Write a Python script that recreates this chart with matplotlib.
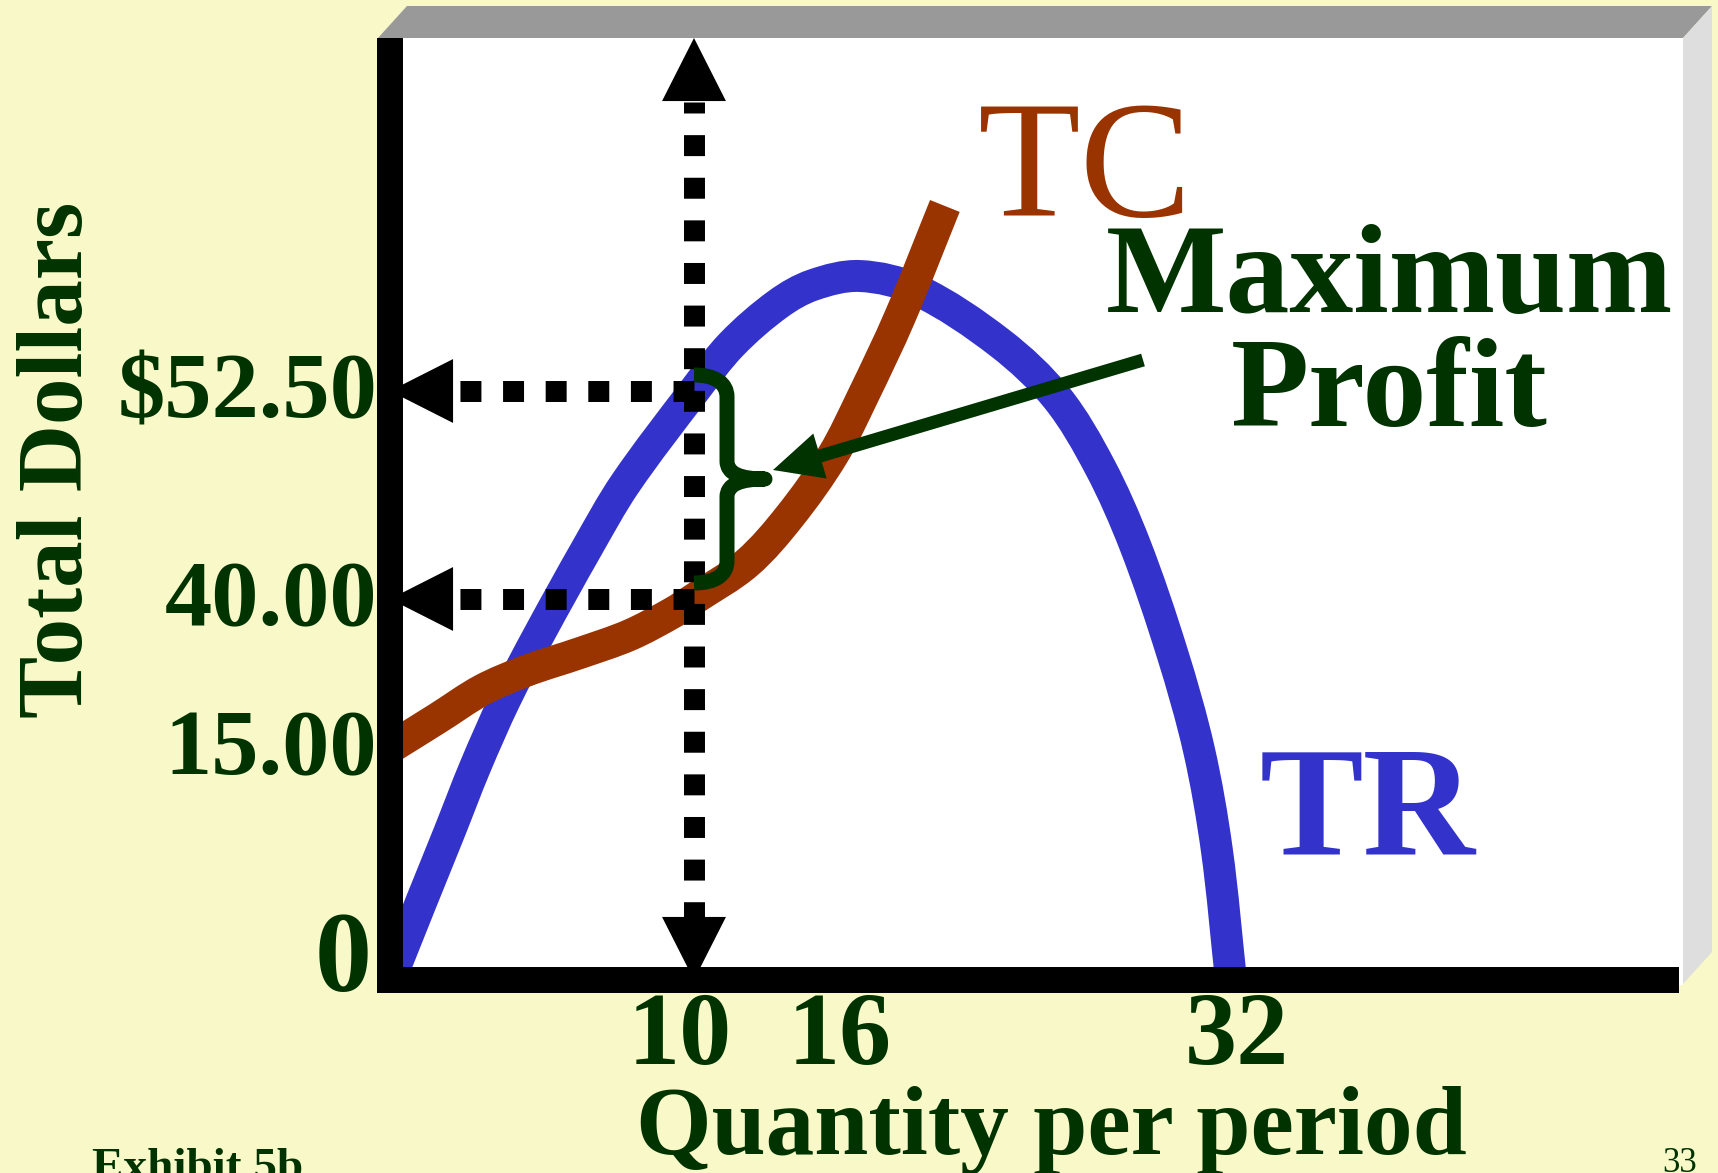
import numpy as np
import matplotlib
matplotlib.use("Agg")
import matplotlib.pyplot as plt
from matplotlib.patches import Polygon, PathPatch
from matplotlib.path import Path
from matplotlib.transforms import IdentityTransform, ScaledTranslation

plt.rcParams["font.family"] = "Liberation Serif"

W, H = 1718, 1173
BG = "#f8f8c8"
GREEN = "#003300"
BLUE = "#3333cc"
BROWN = "#993300"

# total revenue and total cost (quantity, dollars)
TR_Q = [0, 1.05, 1.94, 2.8, 3.78, 4.93, 6.48, 7.73, 10, 11.37, 13.04, 14.3, 16,
        18.46, 22.04, 24.5, 26.35, 27.86, 29.45, 30.62, 31.39, 32]
TR_D = [0, 5.17, 9.5, 13.77, 23.05, 34.3, 43.06, 46.91, 52.5, 55.32, 57.73, 58.87,
        59.41, 58.57, 55.38, 52.08, 47.93, 43.25, 31.11, 14.87, 8.4, 0]
TC_Q = [0, 1.58, 3.03, 4.47, 6.25, 7.89, 9.28, 10, 11.92, 13.47, 15.02, 16.13,
        17.72, 19.66]
TC_D = [15, 20.03, 24.73, 27.92, 30.94, 33.96, 37.65, 40, 42.16, 44.99, 48.65,
        52.2, 56.95, 63.62]

Q_TICKS = [10, 16, 32]
Q_LABELS = ["10", "16", "32"]
D_TICKS = [15, 40, 52.5]
D_LABELS = ["15.00", "40.00", r"\$52.50"]

Q_BEST = 10      # profit-maximising output
TR_BEST = 52.5   # revenue there
TC_BEST = 40     # cost there

# axes box in pixels (top-left origin)
AX_L, AX_R, AX_T, AX_B = 390, 1666, 38, 980
# the axes are not drawn to a uniform scale: pixel distance of each marked value
X_KNOT_Q = [0, 10, 16, 32]
X_KNOT_PX = [0, 304, 470, 841]
Y_KNOT_D = [0, 15, 40, 52.5]
Y_KNOT_PX = [0, 232, 381, 589]
X_LABEL_SHIFT = [-14, -20, 6]   # px nudges for the quantity labels


def lin_extrap(v, xp, fp):
    v = np.asarray(v, dtype=float)
    xp = np.asarray(xp, dtype=float)
    fp = np.asarray(fp, dtype=float)
    out = np.interp(v, xp, fp)
    lo = fp[0] + (v - xp[0]) * (fp[1] - fp[0]) / (xp[1] - xp[0])
    hi = fp[-1] + (v - xp[-1]) * (fp[-1] - fp[-2]) / (xp[-1] - xp[-2])
    return np.where(v < xp[0], lo, np.where(v > xp[-1], hi, out))


def x_fwd(v):
    return lin_extrap(v, X_KNOT_Q, X_KNOT_PX)


def x_inv(p):
    return lin_extrap(p, X_KNOT_PX, X_KNOT_Q)


def y_fwd(v):
    return lin_extrap(v, Y_KNOT_D, Y_KNOT_PX)


def y_inv(p):
    return lin_extrap(p, Y_KNOT_PX, Y_KNOT_D)


def fxy(x, y):
    return (x / W, 1 - y / H)


def smooth_curve(q, d):
    """Bezier path through the points, built in scaled space, returned in data units."""
    pts = np.column_stack([x_fwd(q), y_fwd(d)])
    n = len(pts)
    tang = []
    for i in range(n):
        a = pts[max(i - 1, 0)]
        b = pts[min(i + 1, n - 1)]
        t = b - a
        tang.append(t / np.hypot(*t))
    verts = [pts[0]]
    codes = [Path.MOVETO]
    for i in range(n - 1):
        seg = np.hypot(*(pts[i + 1] - pts[i])) / 3
        verts += [pts[i] + tang[i] * seg, pts[i + 1] - tang[i + 1] * seg, pts[i + 1]]
        codes += [Path.CURVE4] * 3
    verts = np.array(verts)
    data = np.column_stack([x_inv(verts[:, 0]), y_inv(verts[:, 1])])
    return Path(data, codes)


fig = plt.figure(figsize=(W / 100, H / 100), dpi=100, facecolor=BG)

# slide panel: white face, grey top bevel, light side
for pts, col in [
    ([fxy(378, 38), fxy(1683, 38), fxy(1683, 985), fxy(378, 985)], "white"),
    ([fxy(378, 38), fxy(407, 6), fxy(1712, 6), fxy(1683, 38)], "#999999"),
    ([fxy(1683, 38), fxy(1712, 6), fxy(1712, 952), fxy(1683, 984)], "#dedede"),
]:
    fig.add_artist(Polygon(pts, closed=True, transform=fig.transFigure,
                           fc=col, ec="none", zorder=-1))

ax = fig.add_axes([AX_L / W, 1 - AX_B / H, (AX_R - AX_L) / W, (AX_B - AX_T) / H])
ax.set_facecolor("none")
ax.set_xscale("function", functions=(x_fwd, x_inv))
ax.set_yscale("function", functions=(y_fwd, y_inv))
ax.set_xlim(0, float(x_inv(AX_R - AX_L)))
ax.set_ylim(0, float(y_inv(AX_B - AX_T)))
y_top = ax.get_ylim()[1]

for q, d, col, z in [(TR_Q, TR_D, BLUE, 2), (TC_Q, TC_D, BROWN, 2.05)]:
    ax.add_patch(PathPatch(smooth_curve(q, d), fill=False, ec=col, lw=23,
                           capstyle="butt", joinstyle="round", zorder=z))

# dotted guide lines with arrowheads
HEAD_PX = 63
dot = dict(color="black", lw=15.1, dash_capstyle="butt", zorder=2.1, clip_on=False)
q_base = float(x_inv(HEAD_PX))
for d in (TR_BEST, TC_BEST):
    ax.plot([Q_BEST, q_base], [d, d], linestyle=(0, (1, 1.032)), **dot)
ax.plot([Q_BEST, Q_BEST],
        [float(y_inv(AX_B - AX_T - HEAD_PX - 1)), float(y_inv(HEAD_PX))],
        linestyle=(0.476, (1, 1.032)), **dot)

head = dict(arrowstyle="-|>,head_length=45.4,head_width=23", mutation_scale=1,
            lw=0, color="black", shrinkA=0, shrinkB=0)
for d in (TR_BEST, TC_BEST):
    ax.annotate("", xy=(0, d), xytext=(Q_BEST, d), arrowprops=head,
                annotation_clip=False, zorder=2.2)
ax.annotate("", xy=(Q_BEST, y_top), xytext=(Q_BEST, 0), arrowprops=head,
            annotation_clip=False, zorder=2.2)
ax.annotate("", xy=(Q_BEST, 0), xytext=(Q_BEST, y_top), arrowprops=head,
            annotation_clip=False, zorder=2.2)

# brace marking the profit gap between TR and TC
x0, yt = ax.transData.transform((Q_BEST, TR_BEST))
_, yb = ax.transData.transform((Q_BEST, TC_BEST))
yt += 16
yb += 16
xs, xt, mid = x0 + 33, x0 + 71, (yt + yb) / 2
verts = [(x0, yt), (x0 + 21, yt), (xs, yt - 8), (xs, yt - 22),
         (xs, mid + 18),
         (xs, mid + 5), (xs + 14, mid), (xt, mid),
         (xs + 14, mid), (xs, mid - 5), (xs, mid - 18),
         (xs, yb + 22),
         (xs, yb + 8), (x0 + 21, yb), (x0, yb)]
codes = [Path.MOVETO] + [Path.CURVE4] * 3 + [Path.LINETO] + [Path.CURVE4] * 6 \
    + [Path.LINETO] + [Path.CURVE4] * 3
ax.add_patch(PathPatch(Path(verts, codes), transform=IdentityTransform(),
                       fill=False, ec=GREEN, lw=10.8, capstyle="butt",
                       joinstyle="round", zorder=3, clip_on=False))

ax.annotate("", xy=fxy(773, 470), xycoords="figure fraction",
            xytext=fxy(1143, 360), textcoords="figure fraction",
            arrowprops=dict(width=9.4, headwidth=33.8, headlength=35.3,
                            shrink=0, color=GREEN, lw=0), zorder=3)

# axes
for side in ("top", "right"):
    ax.spines[side].set_visible(False)
ax.spines["left"].set_linewidth(18.7)
ax.spines["left"].set_capstyle("butt")
ax.spines["bottom"].set_linewidth(18.7)
ax.spines["bottom"].set_capstyle("projecting")
for side in ("left", "bottom"):
    ax.spines[side].set_color("black")

ax.set_xticks(Q_TICKS, Q_LABELS, fontsize=75, fontweight="bold", color=GREEN)
ax.set_yticks(D_TICKS, D_LABELS, fontsize=68, fontweight="bold", color=GREEN)
ax.tick_params(axis="x", length=0, pad=8.6)
ax.tick_params(axis="y", length=0, pad=9)
for lbl in ax.get_yticklabels():
    lbl.set_transform(lbl.get_transform()
                      + ScaledTranslation(0, 6 / 100, fig.dpi_scale_trans))
for lbl, dx in zip(ax.get_xticklabels(), X_LABEL_SHIFT):
    lbl.set_transform(lbl.get_transform()
                      + ScaledTranslation(dx / 100, 0, fig.dpi_scale_trans))
ax.annotate("0", xy=(0, 0), xytext=(-13, 12.2), textcoords="offset points",
            ha="right", va="center", fontsize=82, fontweight="bold",
            color=GREEN, annotation_clip=False, zorder=1)

# labels
fig.text(*fxy(978, 216), "TC", fontsize=121, color=BROWN, va="baseline")
fig.text(*fxy(1260, 855), "TR", fontsize=112, fontweight="bold", color=BLUE,
         va="baseline")
fig.text(*fxy(1389, 312), "Maximum", fontsize=92, fontweight="bold",
         color=GREEN, ha="center", va="baseline")
fig.text(*fxy(1389, 426), "Profit", fontsize=92, fontweight="bold",
         color=GREEN, ha="center", va="baseline")
fig.text(*fxy(1051, 1154), "Quantity per period", fontsize=70,
         fontweight="bold", color=GREEN, ha="center", va="baseline")
fig.text(*fxy(82, 460), "Total Dollars", fontsize=67, fontweight="bold",
         color=GREEN, ha="center", va="baseline", rotation=90,
         rotation_mode="anchor")
fig.text(*fxy(92, 1180), "Exhibit 5b", fontsize=34, fontweight="bold",
         color=GREEN, va="baseline")
fig.text(*fxy(1662, 1172), "33", fontsize=25, color=GREEN, va="baseline")

fig.savefig("out.png", dpi=100, facecolor=BG)
